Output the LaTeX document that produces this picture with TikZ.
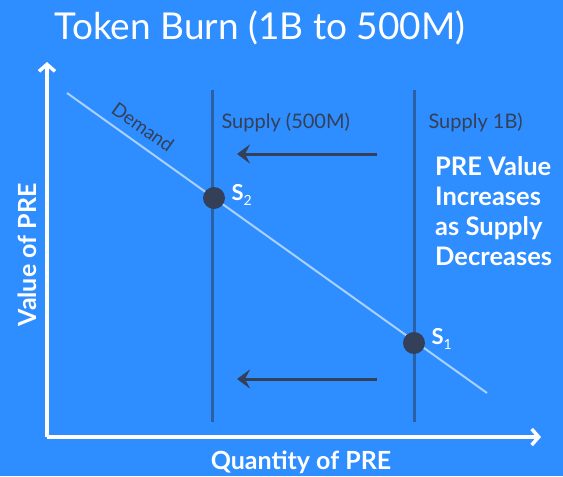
\documentclass[tikz,border=0pt]{standalone}
\usepackage{fontspec}
\setmainfont{Lato}
\usetikzlibrary{arrows.meta}
\usetikzlibrary{positioning}
\definecolor{bgblue}{RGB}{46,141,255}
\definecolor{supplyblue}{RGB}{44,96,165}
\definecolor{slate}{RGB}{52,64,88}
\definecolor{demandblue}{RGB}{170,208,255}
\newcommand{\sub}[1]{\raisebox{-0.4ex}{\fontsize{14}{14}\selectfont\mdseries #1}}
\tikzset{
  axis/.style={white, line width=3.5pt, -{Straight Barb[length=7pt,width=16pt,line width=3.5pt]}},
  supplyline/.style={supplyblue, line width=3pt},
  shift arrow/.style={slate, line width=3pt, -{Stealth[length=13pt,width=19pt,inset=5pt]}},
  point/.style={circle, fill=slate, minimum size=22pt, inner sep=0pt},
  pointlabel/.style={white, font=\fontsize{22}{24}\selectfont\bfseries},
  supplylabel/.style={slate, font=\fontsize{20}{22}\selectfont, anchor=west},
}
\begin{document}
\begin{tikzpicture}[x=1pt,y=-1pt]
  \fill[bgblue] (0,0) rectangle (563,476);
  %title
  \node[white, font=\fontsize{37}{42}\selectfont] (title) at (260,28) {Token Burn (1B to 500M)};
  %draw axes
  \coordinate (origin) at (47,437);
  \coordinate (ytop) at (47,62);
  \coordinate (xend) at (541,437);
  \draw[axis] (origin) -- (ytop);
  \draw[axis] (origin) -- (xend);
  \node[white, font=\fontsize{25}{28}\selectfont\bfseries, rotate=90] (ylab) at (27,255) {Value of PRE};
  \node[white, font=\fontsize{25}{28}\selectfont\bfseries] (xlab) at (301,462) {Quantity of PRE};
  %demand line
  \coordinate (d1) at (67,93);
  \coordinate (d2) at (487,393);
  \draw[demandblue, line width=2pt] (d1) -- (d2);
  \node[slate, font=\fontsize{19}{20}\selectfont, rotate=-35.5] (dlab) at (143,127) {Demand};
  %supply lines
  \coordinate (a1) at (212,90);
  \coordinate (a2) at (212,422);
  \coordinate (b1) at (414,90);
  \coordinate (b2) at (414,422);
  \draw[supplyline] (a1) -- (a2);
  \draw[supplyline] (b1) -- (b2);
  \node[supplylabel] (alab) at (218,122) {Supply (500M)};
  \node[supplylabel] (blab) at (425,122) {Supply 1B)};
  %shift arrows
  \coordinate (u1) at (377,154);
  \coordinate (u2) at (237,154);
  \coordinate (l1) at (377,379);
  \coordinate (l2) at (237,379);
  \draw[shift arrow] (u1) -- (u2);
  \draw[shift arrow] (l1) -- (l2);
  %equilibrium points
  \node[point] (s2) at (214,198) {};
  \node[point] (s1) at (414,343) {};
  \node[pointlabel, anchor=west] (s2lab) at (228,195) {S\sub{2}};
  \node[pointlabel, anchor=west] (s1lab) at (428,339) {S\sub{1}};
  %side note
  \node[white, font=\fontsize{25.5}{30}\selectfont\bfseries, align=left, anchor=north west, inner sep=0pt] (note) at (435,156) {PRE Value\\Increases\\as Supply\\Decreases};
\end{tikzpicture}
\end{document}
